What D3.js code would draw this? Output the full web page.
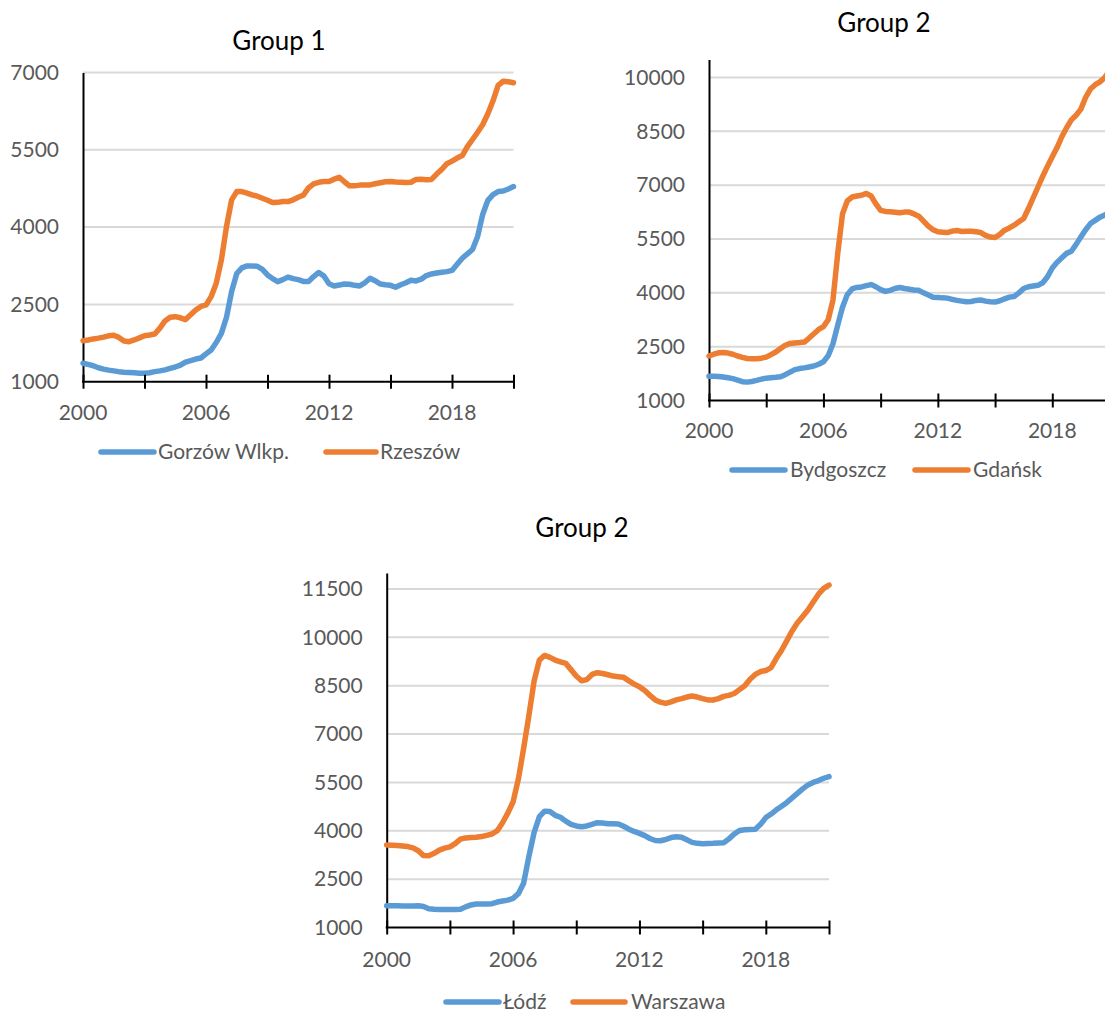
<!DOCTYPE html>
<html>
<head>
<meta charset="utf-8">
<script src="https://cdn.jsdelivr.net/npm/d3@7"></script>
<style>
  html, body { margin: 0; padding: 0; background: #fff; }
  svg { display: block; font-family: Lato, "Open Sans", sans-serif; }
</style>
</head>
<body>
<svg id="chart" width="1105" height="1012"></svg>
<script>
// Quarterly average price per m² (PLN), 2000 Q1 – 2021 Q1
const quarters = d3.range(85).map(i => 2000 + i / 4);

const gorzow = [
  1357, 1335, 1310, 1270, 1245, 1225, 1210, 1195, 1185, 1178, 1172, 1166,
  1163, 1175, 1195, 1210, 1230, 1260, 1285, 1320, 1380, 1410, 1440, 1460,
  1540, 1615, 1760, 1939, 2250, 2750, 3100, 3210, 3247, 3245, 3240, 3180,
  3072, 3000, 2942, 2980, 3030, 3000, 2980, 2945, 2942, 3040, 3120, 3050,
  2900, 2858, 2875, 2897, 2890, 2870, 2858, 2920, 3008, 2960, 2895, 2880,
  2870, 2833, 2880, 2920, 2969, 2955, 2990, 3060, 3091, 3110, 3125, 3136,
  3160, 3280, 3396, 3480, 3565, 3820, 4250, 4520, 4630, 4689, 4700, 4740,
  4786
];
const rzeszow = [
  1796, 1810, 1830, 1845, 1865, 1890, 1900, 1860, 1790, 1777, 1810, 1850,
  1893, 1905, 1926, 2040, 2180, 2250, 2262, 2240, 2205, 2300, 2392, 2460,
  2489, 2650, 2911, 3363, 4010, 4528, 4689, 4689, 4660, 4625, 4600, 4560,
  4520, 4476, 4480, 4495, 4495, 4530, 4580, 4620, 4760, 4840, 4870, 4883,
  4883, 4930, 4968, 4880, 4800, 4800, 4815, 4815, 4819, 4840, 4860, 4880,
  4883, 4875, 4870, 4865, 4870, 4925, 4930, 4920, 4925, 5030, 5120, 5230,
  5280, 5340, 5388, 5560, 5700, 5840, 5990, 6200, 6450, 6750, 6830, 6820,
  6800
];
const bydgoszcz = [
  1679, 1677, 1670, 1655, 1635, 1610, 1570, 1525, 1512, 1530, 1560, 1595,
  1623, 1635, 1645, 1660, 1720, 1790, 1860, 1890, 1910, 1935, 1960, 2010,
  2080, 2250, 2583, 3100, 3600, 3950, 4110, 4150, 4165, 4200, 4230, 4170,
  4090, 4040, 4070, 4120, 4150, 4120, 4099, 4080, 4070, 4000, 3940, 3880,
  3870, 3860, 3853, 3820, 3790, 3770, 3750, 3760, 3790, 3800, 3770, 3750,
  3743, 3780, 3830, 3880, 3900, 4000, 4120, 4170, 4190, 4210, 4280, 4450,
  4693, 4850, 4980, 5100, 5160, 5350, 5560, 5760, 5930, 6020, 6110, 6170,
  6230
];
const gdansk = [
  2240, 2290, 2330, 2335, 2322, 2290, 2240, 2200, 2170, 2163, 2163, 2180,
  2210, 2280, 2350, 2450, 2540, 2590, 2605, 2615, 2630, 2740, 2860, 2980,
  3060, 3250, 3800, 5100, 6200, 6560, 6670, 6700, 6720, 6770, 6700, 6480,
  6300, 6270, 6259, 6245, 6230, 6250, 6250, 6200, 6137, 6000, 5860, 5760,
  5700, 5690, 5681, 5720, 5740, 5710, 5715, 5719, 5700, 5680, 5600, 5555,
  5542, 5630, 5747, 5810, 5886, 5980, 6072, 6350, 6650, 6950, 7250, 7530,
  7790, 8050, 8350, 8600, 8820, 8950, 9120, 9450, 9680, 9800, 9880, 10000,
  10200
];
const lodz = [
  1676, 1676, 1672, 1668, 1665, 1668, 1676, 1650, 1580, 1564, 1560, 1560,
  1558, 1555, 1564, 1640, 1700, 1729, 1729, 1729, 1740, 1790, 1822, 1850,
  1905, 2050, 2371, 3200, 3950, 4437, 4610, 4600, 4480, 4420, 4300, 4200,
  4150, 4127, 4150, 4200, 4251, 4240, 4220, 4215, 4210, 4140, 4050, 3980,
  3920, 3850, 3760, 3700, 3690, 3730, 3790, 3816, 3800, 3720, 3640, 3610,
  3600, 3605, 3610, 3620, 3630, 3750, 3900, 4010, 4030, 4040, 4050, 4200,
  4410, 4520, 4650, 4760, 4880, 5020, 5162, 5300, 5423, 5500, 5558, 5630,
  5682
];
const warszawa = [
  3560, 3555, 3545, 3530, 3510, 3470, 3380, 3230, 3225, 3300, 3400, 3460,
  3500, 3600, 3740, 3780, 3790, 3797, 3820, 3860, 3900, 4003, 4250, 4550,
  4900, 5600, 6550, 7570, 8650, 9297, 9440, 9380, 9297, 9240, 9194, 9000,
  8800, 8656, 8690, 8850, 8903, 8880, 8840, 8800, 8780, 8760, 8650, 8550,
  8470, 8350, 8200, 8060, 7990, 7954, 8000, 8060, 8100, 8150, 8181, 8150,
  8100, 8060, 8057, 8100, 8170, 8200, 8260, 8380, 8500, 8700, 8850, 8940,
  8970, 9060, 9350, 9600, 9900, 10200, 10450, 10650, 10850, 11100, 11340, 11520,
  11624
];

// Axis ticks and labels
const xTickYears = [2000, 2003, 2006, 2009, 2012, 2015, 2018, 2021];
const xLabelYears = [2000, 2006, 2012, 2018];
const yTicksGroup1 = [1000, 2500, 4000, 5500, 7000];
const yTicksGroup2 = [1000, 2500, 4000, 5500, 7000, 8500, 10000];
const yTicksGroup3 = [1000, 2500, 4000, 5500, 7000, 8500, 10000, 11500];

const BLUE = "#5b9bd5", ORANGE = "#ed7d31";
const TEXT = "#595959", GRID = "#d9d9d9";
const LABEL_SIZE = 21;

const panels = [
  {
    title: "Group 1", titleX: 279, titleY: 50,
    left: 83, right: 513.5, top: 72.5, bottom: 381.7,
    yMax: 7000, yTicks: yTicksGroup1, xLabelY: 420,
    series: [{ name: "Gorzów Wlkp.", values: gorzow, color: BLUE },
             { name: "Rzeszów", values: rzeszow, color: ORANGE }],
    legendY: 452,
    legend: [{ x1: 101, x2: 154, tx: 158 }, { x1: 326, x2: 376, tx: 380 }]
  },
  {
    title: "Group 2", titleX: 884, titleY: 32,
    left: 709, right: 1109.5, top: 59.6, bottom: 400.5,
    yMax: 10500, yTicks: yTicksGroup2, xLabelY: 438,
    series: [{ name: "Bydgoszcz", values: bydgoszcz, color: BLUE },
             { name: "Gdańsk", values: gdansk, color: ORANGE }],
    legendY: 470,
    legend: [{ x1: 732, x2: 785, tx: 790 }, { x1: 915, x2: 968, tx: 973 }]
  },
  {
    title: "Group 2", titleX: 582, titleY: 537,
    left: 386.7, right: 829, top: 572.9, bottom: 927.5,
    yMax: 12000, yTicks: yTicksGroup3, xLabelY: 966.7,
    series: [{ name: "Łódź", values: lodz, color: BLUE },
             { name: "Warszawa", values: warszawa, color: ORANGE }],
    legendY: 1002,
    legend: [{ x1: 446, x2: 499, tx: 503 }, { x1: 573, x2: 625, tx: 631 }]
  }
];

const svg = d3.select("#chart");

panels.forEach(p => {
  const g = svg.append("g");
  const x = d3.scaleLinear().domain([2000, 2021]).range([p.left, p.right]);
  const y = d3.scaleLinear().domain([1000, p.yMax]).range([p.bottom, p.top]);

  // title
  g.append("text")
    .attr("x", p.titleX).attr("y", p.titleY)
    .attr("text-anchor", "middle")
    .attr("font-size", 26).attr("fill", "#000")
    .text(p.title);

  // horizontal gridlines
  g.append("g").selectAll("line")
    .data(p.yTicks.filter(v => v > 1000))
    .join("line")
    .attr("x1", p.left).attr("x2", p.right)
    .attr("y1", d => y(d)).attr("y2", d => y(d))
    .attr("stroke", GRID).attr("stroke-width", 2);

  // y axis: line and labels
  const yAxis = d3.axisLeft(y).tickValues(p.yTicks).tickSize(0).tickPadding(24)
    .tickFormat(d3.format("d"));
  const ya = g.append("g").attr("transform", `translate(${p.left},0)`).call(yAxis);
  ya.select(".domain").attr("stroke", "#000").attr("stroke-width", 2);
  ya.selectAll("text").attr("font-size", LABEL_SIZE).attr("fill", TEXT)
    .attr("font-family", "Lato, 'Open Sans', sans-serif");

  // series lines
  const line = d3.line()
    .x((d, i) => x(quarters[i]))
    .y(d => y(d));
  p.series.forEach(s => {
    g.append("path")
      .datum(s.values)
      .attr("d", line)
      .attr("fill", "none")
      .attr("stroke", s.color)
      .attr("stroke-width", 5.5)
      .attr("stroke-linejoin", "round")
      .attr("stroke-linecap", "round");
  });

  // x axis: crossing ticks every 3 years
  const xAxis = d3.axisBottom(x).tickValues(xTickYears).tickSize(7).tickFormat("");
  const xa = g.append("g").attr("transform", `translate(0,${p.bottom})`).call(xAxis);
  xa.select(".domain").remove();
  xa.append("line")
    .attr("x1", p.left - 1).attr("x2", p.right)
    .attr("stroke", "#000").attr("stroke-width", 2);
  xa.selectAll(".tick line").attr("y1", -7).attr("y2", 7)
    .attr("stroke", "#000").attr("stroke-width", 2);

  // x labels
  g.append("g").selectAll("text")
    .data(xLabelYears)
    .join("text")
    .attr("x", d => x(d)).attr("y", p.xLabelY)
    .attr("text-anchor", "middle")
    .attr("font-size", LABEL_SIZE).attr("fill", TEXT)
    .text(d => d);

  // legend
  p.series.forEach((s, i) => {
    const L = p.legend[i];
    g.append("line")
      .attr("x1", L.x1).attr("x2", L.x2)
      .attr("y1", p.legendY).attr("y2", p.legendY)
      .attr("stroke", s.color).attr("stroke-width", 5.5)
      .attr("stroke-linecap", "round");
    g.append("text")
      .attr("x", L.tx).attr("y", p.legendY).attr("dy", "0.35em")
      .attr("font-size", LABEL_SIZE).attr("fill", TEXT)
      .text(s.name);
  });
});
</script>
</body>
</html>
